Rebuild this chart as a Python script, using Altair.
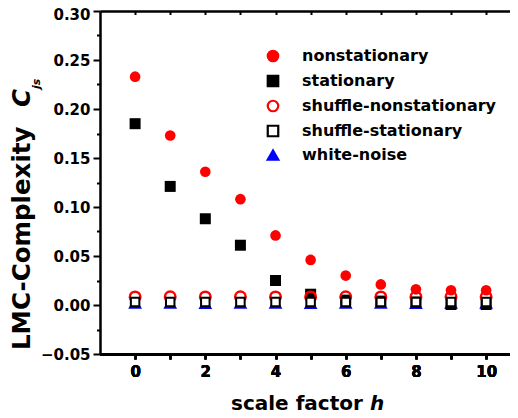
import altair as alt
import pandas as pd

# ---- data ----
h = [0, 1, 2, 3, 4, 5, 6, 7, 8, 9, 10]
nonstationary = [0.233, 0.173, 0.136, 0.108, 0.071, 0.046, 0.030, 0.021, 0.016, 0.015, 0.015]
stationary = [0.185, 0.121, 0.088, 0.061, 0.025, 0.011, 0.005, 0.004, 0.003, 0.0005, 0.0005]
shuffle_nonstationary = [0.0082, 0.0083, 0.0082, 0.0083, 0.0082, 0.0082, 0.0083, 0.0082, 0.0082, 0.0083, 0.0082]
shuffle_stationary = [0.0031, 0.0030, 0.0031, 0.0030, 0.0031, 0.0030, 0.0031, 0.0030, 0.0031, 0.0030, 0.0031]
white_noise = [0.0022, 0.0022, 0.0021, 0.0022, 0.0022, 0.0021, 0.0022, 0.0022, 0.0021, 0.0022, 0.0022]

series_order = ["nonstationary", "stationary", "shuffle-nonstationary",
                "shuffle-stationary", "white-noise"]
stroke_colors = ["#ff0000", "#000000", "#ff0000", "#000000", "#0000ff"]
fill_colors = ["#ff0000", "#000000", "transparent", "#ffffff", "#0000ff"]
shapes = ["circle", "square", "circle", "square", "triangle-up"]

x_ticks = [0, 1, 2, 3, 4, 5, 6, 7, 8, 9, 10]
y_ticks = [-0.05, -0.025, 0.0, 0.025, 0.05, 0.075, 0.10, 0.125, 0.15,
           0.175, 0.20, 0.225, 0.25, 0.275, 0.30]

x_title = ["scale factor"]
x_title_var = ["h"]
y_title = ["LMC-Complexity"]
y_title_var = ["C"]
y_title_sub = ["js"]

W, H = 410, 343
FONT = "DejaVu Sans"

xscale = alt.Scale(domain=[-1, 10.68], nice=False, zero=False)
yscale = alt.Scale(domain=[-0.05, 0.30], nice=False, zero=False)
major_test = "abs(datum.value*20 - round(datum.value*20)) < 0.01"

x_enc = alt.X("h:Q", scale=xscale,
              axis=alt.Axis(orient="bottom", values=x_ticks, title=None,
                            labelExpr="datum.value % 2 == 0 ? datum.label : ''",
                            tickSize=5, labelPadding=5, grid=False))
y_enc = alt.Y("value:Q", scale=yscale,
              axis=alt.Axis(values=y_ticks, title=None, grid=False,
                            labelExpr=major_test + " ? format(datum.value, '.2f') : ''",
                            tickSize={"condition": {"test": major_test, "value": 7}, "value": 3.5},
                            labelOffset={"condition": {"test": "datum.value > 0.29", "value": 3}, "value": 0},
                            labelPadding=3))
color_enc = alt.Color("series:N", scale=alt.Scale(domain=series_order, range=stroke_colors),
                      legend=alt.Legend(orient="none", legendX=165, legendY=37, title=None,
                                        labelFont=FONT, labelFontSize=16, labelFontWeight="bold",
                                        labelColor="black", labelOffset=21, rowPadding=5,
                                        labelLimit=400, padding=0,
                                        symbolSize=110, symbolStrokeWidth=2.2))
fill_enc = alt.Fill("series:N", scale=alt.Scale(domain=series_order, range=fill_colors))
shape_enc = alt.Shape("series:N", scale=alt.Scale(domain=series_order, range=shapes))


def series_layer(name, vals, size, sw):
    d = pd.DataFrame({"h": h, "value": vals, "series": [name] * len(h)})
    return alt.Chart(d).mark_point(opacity=1, size=size, strokeWidth=sw).encode(
        x=x_enc, y=y_enc, color=color_enc, fill=fill_enc, shape=shape_enc)


layers = [
    series_layer("white-noise", white_noise, 190, 0),
    series_layer("nonstationary", nonstationary, 113, 0),
    series_layer("stationary", stationary, 121, 0),
    series_layer("shuffle-nonstationary", shuffle_nonstationary, 110, 2.5),
    series_layer("shuffle-stationary", shuffle_stationary, 72, 2),
]

top_axis = alt.Chart(pd.DataFrame({"h": x_ticks})).mark_point(opacity=0).encode(
    x=alt.X("h:Q", scale=xscale,
            axis=alt.Axis(orient="bottom", offset=-H, values=x_ticks, labels=False,
                          title=None, tickSize=3.5, grid=False)),
)


def txt(data, x, y, size, angle=0, italic=False, align="left", baseline="alphabetic"):
    kw = dict(font=FONT, fontSize=size, fontWeight="bold", align=align,
              baseline=baseline, color="black")
    if angle:
        kw["angle"] = angle
    if italic:
        kw["fontStyle"] = "italic"
    return alt.Chart(pd.DataFrame({"t": data})).mark_text(**kw).encode(
        text="t:N", x=alt.value(x), y=alt.value(y))


titles = [
    txt(x_title, 131, 399, 20),
    txt(x_title_var, 270, 399, 20, italic=True),
    txt(y_title, -70, 339, 24.5, angle=270),
    txt(y_title_var, -70, 96, 24.5, angle=270, italic=True),
    txt(y_title_sub, -60, 78, 11, angle=270, italic=True),
]

chart = alt.layer(*layers, top_axis, *titles).resolve_axis(x="independent").properties(
    width=W, height=H,
    autosize=alt.AutoSizeParams(type="none"),
    padding={"left": 92, "top": 3, "right": 0, "bottom": 60},
).configure_view(stroke=None).configure_axis(
    domainColor="black", domainWidth=2.5, tickColor="black", tickWidth=2,
    labelFont=FONT, labelFontSize=15, labelFontWeight="bold", labelColor="black",
)

chart.save("out.html", embed_options={"renderer": "svg", "actions": False})
